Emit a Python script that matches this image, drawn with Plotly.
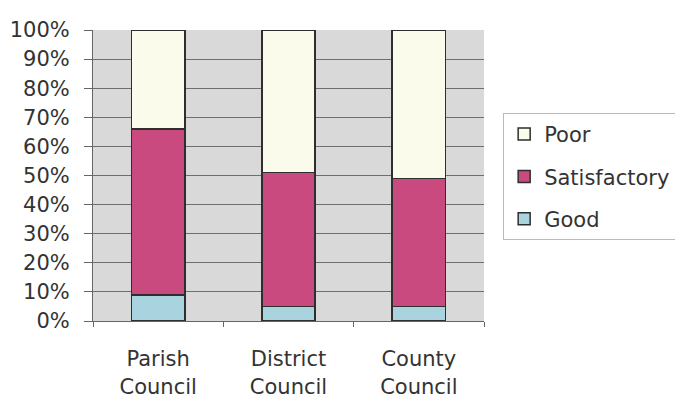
import plotly.graph_objects as go

categories = ["Parish<br>Council", "District<br>Council", "County<br>Council"]
series_names = ["Good", "Satisfactory", "Poor"]
good = [9, 5, 5]
satisfactory = [57, 46, 44]
poor = [34, 49, 51]
y_ticks = [0, 10, 20, 30, 40, 50, 60, 70, 80, 90, 100]
y_tick_labels = [f"{v}%" for v in y_ticks]

colors = {"Good": "#A9D3DF", "Satisfactory": "#C94A7E", "Poor": "#FBFBEC"}
values = {"Good": good, "Satisfactory": satisfactory, "Poor": poor}
ranks = {"Poor": 1, "Satisfactory": 2, "Good": 3}

fig = go.Figure()
for name in series_names:
    fig.add_trace(go.Bar(
        x=categories, y=values[name], name=name,
        marker=dict(color=colors[name], line=dict(color="#2e2e2e", width=1.5)),
        legendgroup=name, legendrank=ranks[name],
    ))

font_family = "DejaVu Sans"
fig.update_layout(
    barmode="stack",
    bargap=0.59,
    width=675, height=401,
    margin=dict(l=93, r=191, t=30, b=80, pad=0, autoexpand=False),
    paper_bgcolor="white",
    plot_bgcolor="#D9D9D9",
    font=dict(family=font_family, size=20, color="#333333"),
    showlegend=True,
    legend=dict(
        x=1.049, y=0.715, xanchor="left", yanchor="top",
        bgcolor="white", bordercolor="#bbbbbb", borderwidth=1,
        traceorder="grouped", tracegroupgap=12,
        font=dict(family=font_family, size=21, color="#333333"),
        itemwidth=30,
    ),
    xaxis=dict(
        automargin=False,
        showline=True, linecolor="#666666", linewidth=1,
        ticks="outside", ticklen=5, tickcolor="#666666",
        tickson="boundaries", ticklabelstandoff=19,
        showgrid=False,
        tickfont=dict(family=font_family, size=21, color="#333333"),
    ),
    yaxis=dict(
        automargin=False,
        range=[0, 100], tickvals=y_ticks, ticktext=y_tick_labels,
        showline=True, linecolor="#666666", linewidth=1,
        ticks="outside", ticklen=8, tickcolor="#666666",
        ticklabelstandoff=10,
        showgrid=True, gridcolor="#6e6e6e", gridwidth=1,
        zeroline=False,
        tickfont=dict(family=font_family, size=21, color="#333333"),
    ),
)

fig.write_html(
    "out.html",
    config={"displayModeBar": False},
    post_script="document.body.style.margin='0px';document.body.style.overflow='hidden';",
)
